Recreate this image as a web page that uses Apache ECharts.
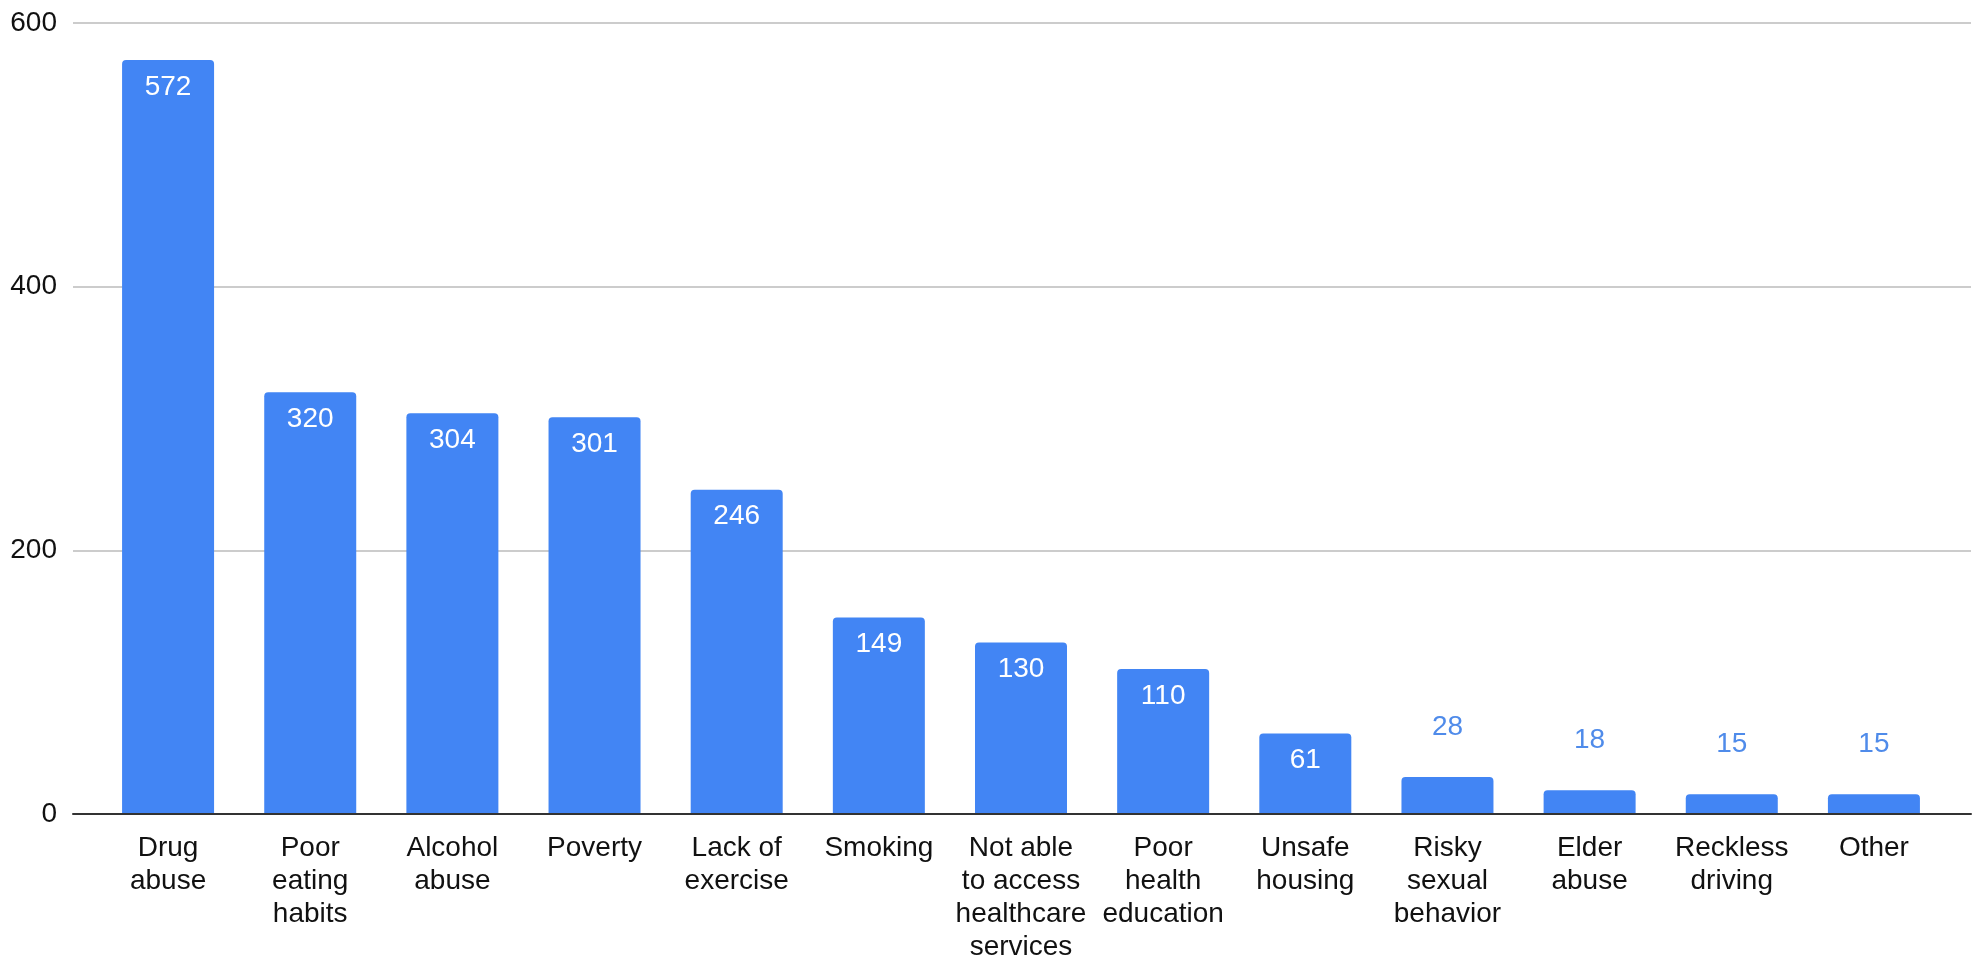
<!DOCTYPE html>
<html>
<head>
<meta charset="utf-8">
<script src="https://cdn.jsdelivr.net/npm/echarts@6/dist/echarts.min.js"></script>
<style>
html,body{margin:0;padding:0;background:#fff;}
#chart{width:1981px;height:968px;}
</style>
</head>
<body>
<div id="chart"></div>
<script>
const categories = [
  'Drug\nabuse',
  'Poor\neating\nhabits',
  'Alcohol\nabuse',
  'Poverty',
  'Lack of\nexercise',
  'Smoking',
  'Not able\nto access\nhealthcare\nservices',
  'Poor\nhealth\neducation',
  'Unsafe\nhousing',
  'Risky\nsexual\nbehavior',
  'Elder\nabuse',
  'Reckless\ndriving',
  'Other'
];
const values = [572, 320, 304, 301, 246, 149, 130, 110, 61, 28, 18, 15, 15];
const yTicks = [0, 200, 400, 600];

const FONT = "'Liberation Sans', Arial, sans-serif";
const FS = 28;
const BAR = '#4285f4';

const data = values.map(v => {
  const inside = v >= 40;
  return {
    value: v,
    label: inside
      ? { position: 'insideTop', distance: 13, color: '#ffffff' }
      : { position: 'top', distance: 36, color: '#4f8bea' }
  };
});

const chart = echarts.init(document.getElementById('chart'));
chart.setOption({
  animation: false,
  backgroundColor: '#ffffff',
  grid: [
    { left: 73, right: 10, top: 23, bottom: 154, containLabel: false },
    { left: 97, right: 36, top: 23, bottom: 154, containLabel: false }
  ],
  xAxis: [
    {
      gridIndex: 0, type: 'value', min: 0, max: 1, z: 5,
      axisLine: { show: true, lineStyle: { color: '#333333', width: 2 } },
      axisTick: { show: false }, axisLabel: { show: false }, splitLine: { show: false }
    },
    {
      gridIndex: 1, type: 'category', data: categories,
      axisLine: { show: false }, axisTick: { show: false },
      axisLabel: {
        interval: 0, margin: 18, color: '#111111',
        fontFamily: FONT, fontSize: FS, lineHeight: 33,
        verticalAlign: 'top', hideOverlap: false
      }
    }
  ],
  yAxis: [
    {
      gridIndex: 0, type: 'value',
      min: yTicks[0], max: yTicks[yTicks.length - 1], interval: yTicks[1] - yTicks[0],
      axisLine: { show: false }, axisTick: { show: false },
      axisLabel: { margin: 16, color: '#111111', fontFamily: FONT, fontSize: FS },
      splitLine: { show: true, lineStyle: { color: '#cccccc', width: 2 } }
    },
    {
      gridIndex: 1, type: 'value', show: false,
      min: yTicks[0], max: yTicks[yTicks.length - 1], interval: yTicks[1] - yTicks[0],
      splitLine: { show: false }
    }
  ],
  series: [{
    type: 'bar',
    xAxisIndex: 1, yAxisIndex: 1,
    data: data,
    barWidth: 92,
    itemStyle: { color: BAR, borderRadius: [4, 4, 0, 0] },
    label: { show: true, fontFamily: FONT, fontSize: FS }
  }]
});
</script>
</body>
</html>
